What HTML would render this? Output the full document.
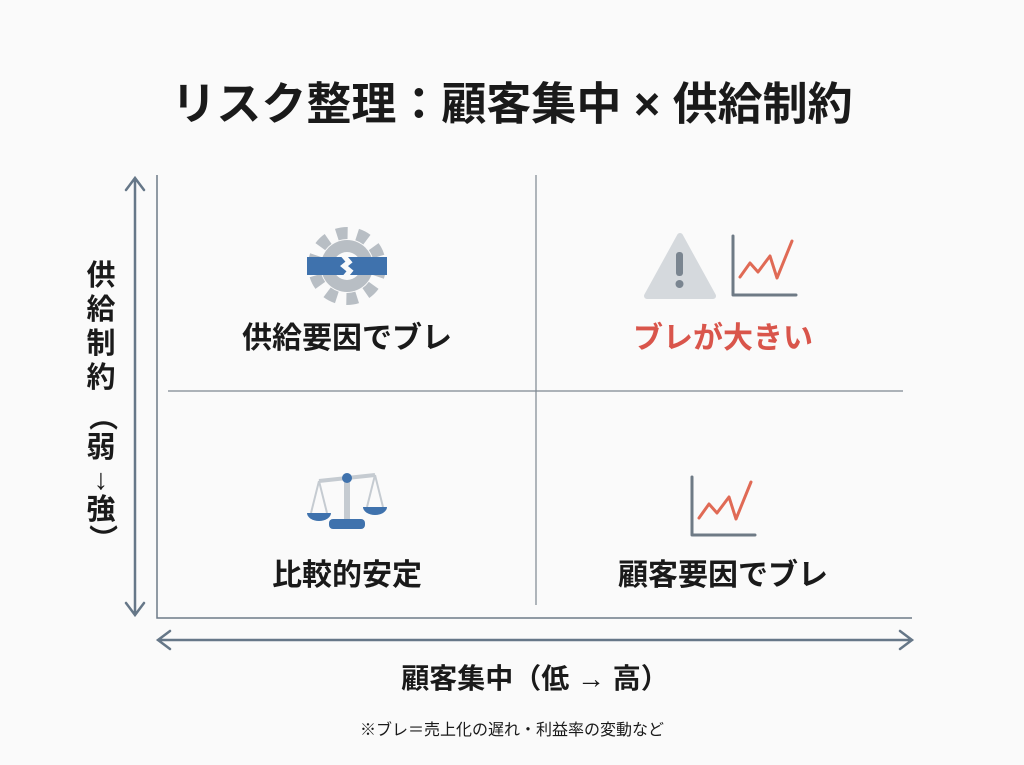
<!DOCTYPE html>
<html><head><meta charset="utf-8"><style>
body{margin:0;width:1024px;height:765px;background:#fafafa;font-family:"Liberation Sans","Noto Sans CJK JP",sans-serif;position:relative;overflow:hidden}
.t{position:absolute;white-space:nowrap;font-weight:bold;color:#1a1a1a;transform:translate(-50%,-50%)}
.v{position:absolute;left:86px;width:30px;text-align:center;font-weight:bold;font-size:29px;color:#1a1a1a;line-height:1}
</style></head><body>
<div class="t" style="left:512px;top:100px;font-size:45px">リスク整理：顧客集中 × 供給制約</div>
<div class="v" style="top:262px">供</div>
<div class="v" style="top:296px">給</div>
<div class="v" style="top:330px">制</div>
<div class="v" style="top:364px">約</div>
<div class="v" style="top:402px;transform:rotate(90deg)">（</div>
<div class="v" style="top:434px">弱</div>
<div class="v" style="top:466px">↓</div>
<div class="v" style="top:496px">強</div>
<div class="v" style="top:524px;transform:rotate(90deg)">）</div>
<div class="t" style="left:347px;top:335px;font-size:30px">供給要因でブレ</div>
<div class="t" style="left:723px;top:335px;font-size:30px;color:#d9554b">ブレが大きい</div>
<div class="t" style="left:347px;top:572px;font-size:30px">比較的安定</div>
<div class="t" style="left:723px;top:572px;font-size:30px">顧客要因でブレ</div>
<div class="t" style="left:535px;top:677px;font-size:28px">顧客集中（低 → 高）</div>
<div class="t" style="left:512px;top:728px;font-size:16px;font-weight:normal">※ブレ＝売上化の遅れ・利益率の変動など</div>
<svg width="1024" height="765" style="position:absolute;left:0;top:0">
<g stroke="#6d7b88" fill="none" stroke-width="1.5">
<path d="M157 175V618H912"/>
<path d="M536 175V605M168 391H903" stroke="#7d8790" stroke-width="1.2"/>
</g>
<g stroke="#667788" fill="none" stroke-width="2.5" stroke-linecap="round">
<path d="M135 178V615M126 190L135 178L144 190M126 603L135 615L144 603"/>
<path d="M158 640H912M170 631L158 640L170 649M900 631L912 640L900 649"/>
</g>
<!-- gear -->
<g transform="translate(347,266)">
<circle r="33" fill="none" stroke="#b8bec4" stroke-width="12" stroke-dasharray="11 9.7"/>
<circle r="26" fill="#b8bec4"/>
<circle r="14" fill="#fafafa"/>
<rect x="-40" y="-9" width="80" height="18" fill="#3f72ad"/>
<path d="M-4 -11L2 -4L-3 0L3 5L-2 11" stroke="#fafafa" stroke-width="5" fill="none"/>
</g>
<!-- warning -->
<path d="M680 236L713 296H647Z" fill="#d5d9dd" stroke="#d5d9dd" stroke-width="6" stroke-linejoin="round"/>
<rect x="676" y="252" width="7" height="24" rx="3" fill="#7a8590"/><circle cx="679.5" cy="284" r="4" fill="#7a8590"/>
<g fill="none" stroke-linecap="round" stroke-linejoin="round">
<path d="M733 236V295H796" stroke="#6e7a85" stroke-width="3"/>
<path d="M740 277L750 263L758 272L770 256L777 278L792 241" stroke="#e06a55" stroke-width="3"/>
<path d="M692 477V535H755" stroke="#6e7a85" stroke-width="3"/>
<path d="M699 518L709 504L717 513L729 497L736 519L751 482" stroke="#e06a55" stroke-width="3"/>
</g>
<!-- scales -->
<g transform="translate(347,495)">
<path d="M-28 -14L28 -20" stroke="#c5cbd1" stroke-width="4"/>
<rect x="-3" y="-16" width="6" height="44" fill="#c5cbd1"/>
<circle cx="0" cy="-17" r="5" fill="#3f72ad"/>
<path d="M-28 -14L-36 18M-28 -14L-20 18M28 -20L20 12M28 -20L36 12" stroke="#c5cbd1" stroke-width="2"/>
<path d="M-40 18H-16A12 8 0 0 1 -40 18Z" fill="#3f72ad"/>
<path d="M16 12H40A12 8 0 0 1 16 12Z" fill="#3f72ad"/>
<rect x="-18" y="24" width="36" height="10" rx="4" fill="#3f72ad"/>
</g>
</svg>
</body></html>
